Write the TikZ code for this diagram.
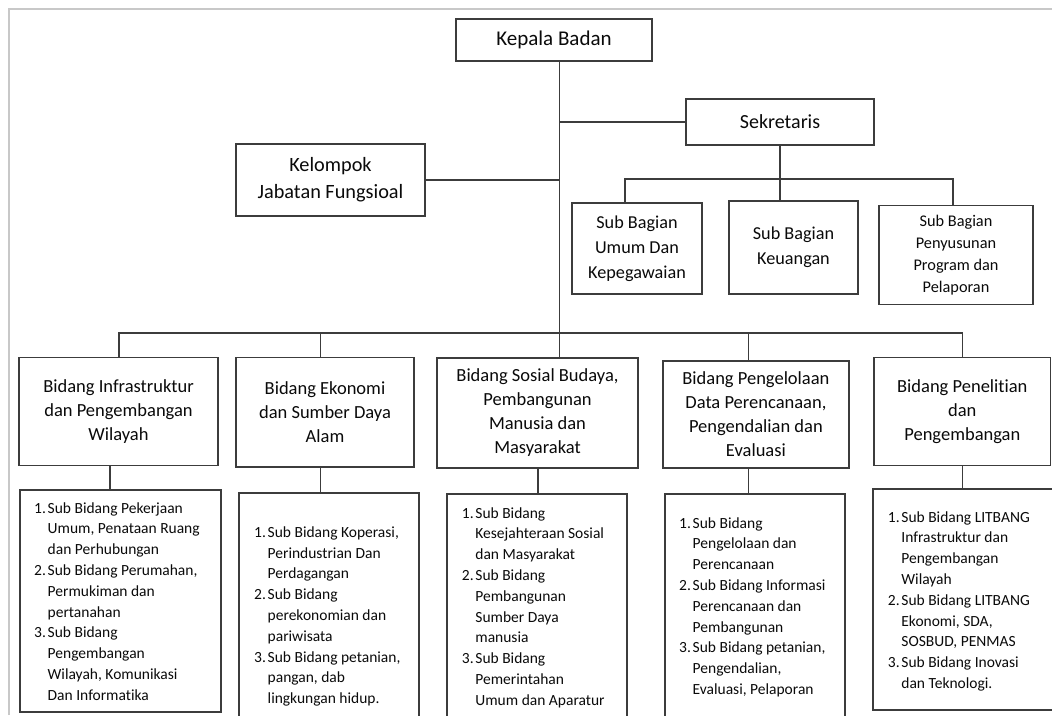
\documentclass[tikz,border=0pt]{standalone}
\usepackage{fontspec}
\setmainfont{Carlito}[Ligatures={NoCommon}]
\definecolor{lnc}{HTML}{3C3C3C}
\definecolor{framec}{HTML}{C8C8C8}
\definecolor{txc}{HTML}{0A0A0A}
\newcommand\litem[2]{\mbox{\makebox[13.5pt][l]{#1}#2}}
\newcommand\lcont[1]{\mbox{\hspace*{13.5pt}#1}}
\tikzset{
  box/.style={draw=lnc, line width=1.5pt, inner sep=0pt, align=center, text=txc},
  conn/.style={draw=lnc, line width=1.5pt},
  fA/.style={font={\fontsize{21}{26}\selectfont}},
  fS/.style={font={\fontsize{20}{26}\selectfont}},
  fK/.style={font={\fontsize{20.3}{27}\selectfont}},
  fSB/.style={font={\fontsize{18.2}{24.8}\selectfont}},
  fSBs/.style={font={\fontsize{16.3}{22}\selectfont}},
  fB/.style={font={\fontsize{18.5}{24}\selectfont}},
  listtext/.style={anchor=north west, inner sep=0pt, align=left, text=txc,
    font={\fontsize{15.5}{20.8}\selectfont}},
}
\begin{document}
\begin{tikzpicture}[x=1pt,y=-1pt]
\useasboundingbox (0,0) rectangle (1052,715);
\fill[white] (0,0) rectangle (1052,715);
% frame
\coordinate (fr1) at (9,715);
\coordinate (fr2) at (9,9);
\coordinate (fr3) at (1052,9);
\draw[framec, line width=1.5pt] (fr1) -- (fr2) -- (fr3);

% top level
\node[box, fA, minimum width=196pt, minimum height=42pt] (kb) at (554,40) {Kepala Badan};
\node[box, fS, minimum width=188pt, minimum height=46pt] (sek) at (780,122) {Sekretaris};
\node[box, fK, minimum width=189pt, minimum height=72pt] (kjf) at (330.5,180) {Kelompok\\Jabatan Fungsioal};

% sub bagian
\node[box, fSB, minimum width=130pt, minimum height=91pt] (sb1) at (637,248.5) {Sub Bagian\\Umum Dan\\Kepegawaian};
\node[box, fSB, minimum width=129pt, minimum height=93pt] (sb2) at (793.5,247.5) {Sub Bagian\\Keuangan};
\node[box, fSBs, minimum width=154pt, minimum height=99pt] (sb3) at (956,255) {Sub Bagian\\Penyusunan\\Program dan\\Pelaporan};

% bidang
\node[box, fB, minimum width=199pt, minimum height=108pt] (b1) at (118.5,411.7) {Bidang Infrastruktur\\dan Pengembangan\\Wilayah};
\node[box, fB, minimum width=178pt, minimum height=109.3pt] (b2) at (325,412.3) {Bidang Ekonomi\\dan Sumber Daya\\Alam};
\node[box, fB, minimum width=201pt, minimum height=110.3pt] (b3) at (537.5,412.9) {Bidang Sosial Budaya,\\Pembangunan\\Manusia dan\\Masyarakat};
\node[box, fB, minimum width=186.3pt, minimum height=107pt] (b4) at (755.9,414.5) {Bidang Pengelolaan\\Data Perencanaan,\\Pengendalian dan\\Evaluasi};
\node[box, fB, minimum width=176.7pt, minimum height=108pt] (b5) at (962.3,411.7) {Bidang Penelitian\\dan\\Pengembangan};

% list boxes
\node[box, minimum width=201pt, minimum height=222pt] (l1) at (120.5,601) {};
\node[box, minimum width=180pt, minimum height=247pt] (l2) at (329,616.5) {};
\node[box, minimum width=180pt, minimum height=227pt] (l3) at (537,607.5) {};
\node[box, minimum width=180pt, minimum height=227pt] (l4) at (755,607.5) {};
\node[box, minimum width=197pt, minimum height=221pt] (l5) at (971.5,599.5) {};

\node[listtext] (l1t) at (34,502.1) {%
\litem{1.}{Sub Bidang Pekerjaan}\\
\lcont{Umum, Penataan Ruang}\\
\lcont{dan Perhubungan}\\
\litem{2.}{Sub Bidang Perumahan,}\\
\lcont{Permukiman dan}\\
\lcont{pertanahan}\\
\litem{3.}{Sub Bidang}\\
\lcont{Pengembangan}\\
\lcont{Wilayah, Komunikasi}\\
\lcont{Dan Informatika}};

\node[listtext] (l2t) at (254,526.4) {%
\litem{1.}{Sub Bidang Koperasi,}\\
\lcont{Perindustrian Dan}\\
\lcont{Perdagangan}\\
\litem{2.}{Sub Bidang}\\
\lcont{perekonomian dan}\\
\lcont{pariwisata}\\
\litem{3.}{Sub Bidang petanian,}\\
\lcont{pangan, dab}\\
\lcont{lingkungan hidup.}};

\node[listtext] (l3t) at (461.7,507.1) {%
\litem{1.}{Sub Bidang}\\
\lcont{Kesejahteraan Sosial}\\
\lcont{dan Masyarakat}\\
\litem{2.}{Sub Bidang}\\
\lcont{Pembangunan}\\
\lcont{Sumber Daya}\\
\lcont{manusia}\\
\litem{3.}{Sub Bidang}\\
\lcont{Pemerintahan}\\
\lcont{Umum dan Aparatur}};

\node[listtext] (l4t) at (679,517.1) {%
\litem{1.}{Sub Bidang}\\
\lcont{Pengelolaan dan}\\
\lcont{Perencanaan}\\
\litem{2.}{Sub Bidang Informasi}\\
\lcont{Perencanaan dan}\\
\lcont{Pembangunan}\\
\litem{3.}{Sub Bidang petanian,}\\
\lcont{Pengendalian,}\\
\lcont{Evaluasi, Pelaporan}};

\node[listtext] (l5t) at (887.7,511.1) {%
\litem{1.}{Sub Bidang LITBANG}\\
\lcont{Infrastruktur dan}\\
\lcont{Pengembangan}\\
\lcont{Wilayah}\\
\litem{2.}{Sub Bidang LITBANG}\\
\lcont{Ekonomi, SDA,}\\
\lcont{SOSBUD, PENMAS}\\
\litem{3.}{Sub Bidang Inovasi}\\
\lcont{dan Teknologi.}};

% connectors
\coordinate (tx) at (559.3,0);
\draw[conn] (kb.south -| tx) -- (tx |- b3.north);
\draw[conn] (tx |- sek.west) -- (sek.west);
\draw[conn] (kjf.east) -- (kjf.east -| tx);

\coordinate (sj1) at (625,179);
\coordinate (sj3) at (953,179);
\draw[conn] (sek.south) -- (sek.south |- sb2.north);
\draw[conn] (sj1 |- sb1.north) -- (sj1) -- (sj3) -- (sj3 |- sb3.north);

\coordinate (bj1) at (119,333);
\coordinate (bj2) at (320.7,333);
\coordinate (bj4) at (748.7,333);
\coordinate (bj5) at (962.7,333);
\draw[conn] (bj1 |- b1.north) -- (bj1) -- (bj5) -- (bj5 |- b5.north);
\draw[conn] (bj2) -- (bj2 |- b2.north);
\draw[conn] (bj4) -- (bj4 |- b4.north);

\coordinate (dx1) at (110,0);
\coordinate (dx2) at (320.7,0);
\coordinate (dx3) at (538,0);
\coordinate (dx4) at (748.7,0);
\coordinate (dx5) at (962.7,0);
\draw[conn] (dx1 |- b1.south) -- (dx1 |- l1.north);
\draw[conn] (dx2 |- b2.south) -- (dx2 |- l2.north);
\draw[conn] (dx3 |- b3.south) -- (dx3 |- l3.north);
\draw[conn] (dx4 |- b4.south) -- (dx4 |- l4.north);
\draw[conn] (dx5 |- b5.south) -- (dx5 |- l5.north);
\end{tikzpicture}
\end{document}
